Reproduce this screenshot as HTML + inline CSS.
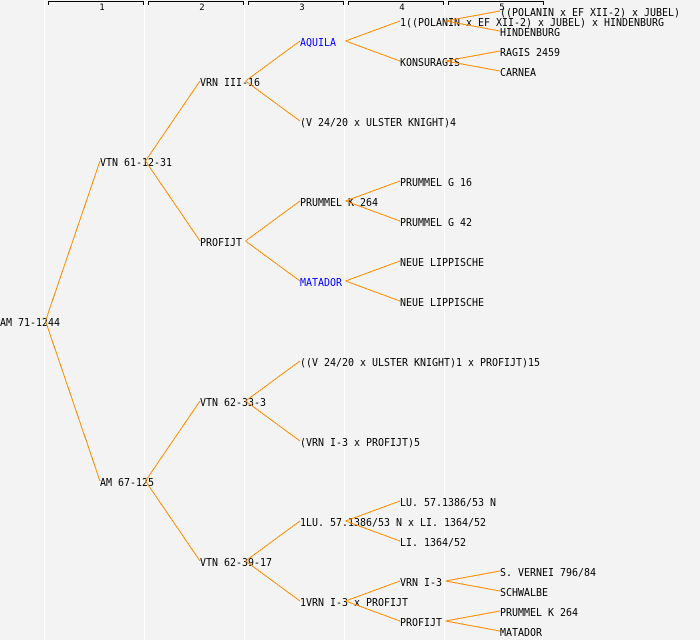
<!DOCTYPE html>
<html><head><meta charset="utf-8"><style>
html,body{margin:0;padding:0;background:#f3f3f3;}
svg{display:block;}
.t{font-family:"DejaVu Sans Mono","Liberation Mono",monospace;font-size:11px;fill:#000;}
.b{fill:#0000ff;}
.h{font-family:"DejaVu Sans Mono","Liberation Mono",monospace;font-size:9px;fill:#000;}
</style></head><body>
<svg width="700" height="640" viewBox="0 0 700 640" xmlns="http://www.w3.org/2000/svg">
<rect x="0" y="0" width="700" height="640" fill="#f3f3f3"/>
<g fill="#ffffff" shape-rendering="crispEdges">
<rect x="44" y="0" width="1" height="640"/>
<rect x="144" y="0" width="1" height="640"/>
<rect x="244" y="0" width="1" height="640"/>
<rect x="344" y="0" width="1" height="640"/>
<rect x="444" y="0" width="1" height="640"/>
</g>
<g fill="#000" shape-rendering="crispEdges">
<rect x="48" y="1" width="96" height="1"/><rect x="48" y="1" width="1" height="4"/><rect x="143" y="1" width="1" height="4"/>
<rect x="148" y="1" width="96" height="1"/><rect x="148" y="1" width="1" height="4"/><rect x="243" y="1" width="1" height="4"/>
<rect x="248" y="1" width="96" height="1"/><rect x="248" y="1" width="1" height="4"/><rect x="343" y="1" width="1" height="4"/>
<rect x="348" y="1" width="96" height="1"/><rect x="348" y="1" width="1" height="4"/><rect x="443" y="1" width="1" height="4"/>
<rect x="448" y="1" width="96" height="1"/><rect x="448" y="1" width="1" height="4"/><rect x="543" y="1" width="1" height="4"/>
</g>
<g class="h" text-anchor="middle">
<text x="102" y="10">1</text>
<text x="202" y="10">2</text>
<text x="302" y="10">3</text>
<text x="402" y="10">4</text>
<text x="502" y="10">5</text>
</g>
<g class="t">
<text x="0" y="326" textLength="60" lengthAdjust="spacingAndGlyphs">AM 71-1244</text>
<text x="100" y="166" textLength="72" lengthAdjust="spacingAndGlyphs">VTN 61-12-31</text>
<text x="100" y="486" textLength="54" lengthAdjust="spacingAndGlyphs">AM 67-125</text>
<text x="200" y="86" textLength="60" lengthAdjust="spacingAndGlyphs">VRN III-16</text>
<text x="200" y="246" textLength="42" lengthAdjust="spacingAndGlyphs">PROFIJT</text>
<text x="200" y="406" textLength="66" lengthAdjust="spacingAndGlyphs">VTN 62-33-3</text>
<text x="200" y="566" textLength="72" lengthAdjust="spacingAndGlyphs">VTN 62-39-17</text>
<text x="300" y="46" textLength="36" lengthAdjust="spacingAndGlyphs" class="b">AQUILA</text>
<text x="300" y="126" textLength="156" lengthAdjust="spacingAndGlyphs">(V 24/20 x ULSTER KNIGHT)4</text>
<text x="300" y="206" textLength="78" lengthAdjust="spacingAndGlyphs">PRUMMEL K 264</text>
<text x="300" y="286" textLength="42" lengthAdjust="spacingAndGlyphs" class="b">MATADOR</text>
<text x="300" y="366" textLength="240" lengthAdjust="spacingAndGlyphs">((V 24/20 x ULSTER KNIGHT)1 x PROFIJT)15</text>
<text x="300" y="446" textLength="120" lengthAdjust="spacingAndGlyphs">(VRN I-3 x PROFIJT)5</text>
<text x="300" y="526" textLength="186" lengthAdjust="spacingAndGlyphs">1LU. 57.1386/53 N x LI. 1364/52</text>
<text x="300" y="606" textLength="108" lengthAdjust="spacingAndGlyphs">1VRN I-3 x PROFIJT</text>
<text x="400" y="26" textLength="264" lengthAdjust="spacingAndGlyphs">1((POLANIN x EF XII-2) x JUBEL) x HINDENBURG</text>
<text x="400" y="66" textLength="60" lengthAdjust="spacingAndGlyphs">KONSURAGIS</text>
<text x="400" y="186" textLength="72" lengthAdjust="spacingAndGlyphs">PRUMMEL G 16</text>
<text x="400" y="226" textLength="72" lengthAdjust="spacingAndGlyphs">PRUMMEL G 42</text>
<text x="400" y="266" textLength="84" lengthAdjust="spacingAndGlyphs">NEUE LIPPISCHE</text>
<text x="400" y="306" textLength="84" lengthAdjust="spacingAndGlyphs">NEUE LIPPISCHE</text>
<text x="400" y="506" textLength="96" lengthAdjust="spacingAndGlyphs">LU. 57.1386/53 N</text>
<text x="400" y="546" textLength="66" lengthAdjust="spacingAndGlyphs">LI. 1364/52</text>
<text x="400" y="586" textLength="42" lengthAdjust="spacingAndGlyphs">VRN I-3</text>
<text x="400" y="626" textLength="42" lengthAdjust="spacingAndGlyphs">PROFIJT</text>
<text x="500" y="16" textLength="180" lengthAdjust="spacingAndGlyphs">((POLANIN x EF XII-2) x JUBEL)</text>
<text x="500" y="36" textLength="60" lengthAdjust="spacingAndGlyphs">HINDENBURG</text>
<text x="500" y="56" textLength="60" lengthAdjust="spacingAndGlyphs">RAGIS 2459</text>
<text x="500" y="76" textLength="36" lengthAdjust="spacingAndGlyphs">CARNEA</text>
<text x="500" y="576" textLength="96" lengthAdjust="spacingAndGlyphs">S. VERNEI 796/84</text>
<text x="500" y="596" textLength="48" lengthAdjust="spacingAndGlyphs">SCHWALBE</text>
<text x="500" y="616" textLength="78" lengthAdjust="spacingAndGlyphs">PRUMMEL K 264</text>
<text x="500" y="636" textLength="42" lengthAdjust="spacingAndGlyphs">MATADOR</text>
</g>
<g stroke="#ff8c00" stroke-width="1" fill="none" shape-rendering="crispEdges">
<path d="M45.5 321 L100 161 M45.5 321 L100 481"/>
<path d="M145.5 161 L200 81 M145.5 161 L200 241 M145.5 481 L200 401 M145.5 481 L200 561"/>
<path d="M245.5 81 L300 41 M245.5 81 L300 121 M245.5 241 L300 201 M245.5 241 L300 281 M245.5 401 L300 361 M245.5 401 L300 441 M245.5 561 L300 521 M245.5 561 L300 601"/>
<path d="M345.5 41 L400 21 M345.5 41 L400 61 M345.5 201 L400 181 M345.5 201 L400 221 M345.5 281 L400 261 M345.5 281 L400 301 M345.5 521 L400 501 M345.5 521 L400 541 M345.5 601 L400 581 M345.5 601 L400 621"/>
<path d="M445.5 21 L500 11 M445.5 21 L500 31 M445.5 61 L500 51 M445.5 61 L500 71 M445.5 581 L500 571 M445.5 581 L500 591 M445.5 621 L500 611 M445.5 621 L500 631"/>
</g>
</svg>
</body></html>
